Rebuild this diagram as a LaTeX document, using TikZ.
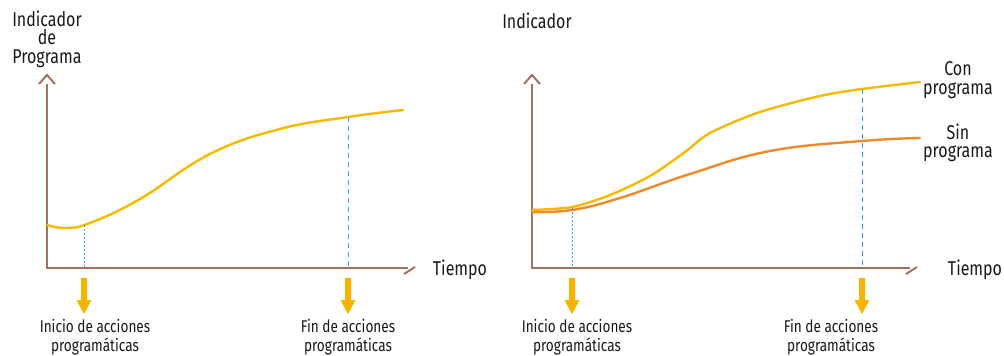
\documentclass[tikz,border=0pt]{standalone}
\usepackage{fontspec}
\setmainfont[FakeStretch=0.8]{Fira Sans}
\usetikzlibrary{calc}
\definecolor{axisc}{HTML}{A0725F}
\definecolor{yelc}{HTML}{F7B900}
\definecolor{orac}{HTML}{EE8A2A}
\definecolor{cyanc}{HTML}{2EA9D6}
\definecolor{arrc}{HTML}{F6B400}
\tikzset{
  axis/.style={draw=axisc,line width=2.6pt},
  curveY/.style={draw=yelc,line width=2.4pt,line cap=round},
  curveO/.style={draw=orac,line width=2.4pt,line cap=round},
  dotline/.style={draw=cyanc,line width=1pt,dash pattern=on 2pt off 2pt},
  dashline/.style={draw=cyanc,line width=1pt,dash pattern=on 5pt off 4pt},
  lbl/.style={font=\fontsize{17}{19}\selectfont,align=center,inner sep=0pt,text=black!90},
  axlbl/.style={font=\fontsize{20}{18.5}\selectfont,align=center,inner sep=0pt,text=black!90},
}
\newcommand{\downarr}[1]{\fill[arrc] ($(#1)+(-3,0)$) -- ($(#1)+(3,0)$) -- ($(#1)+(3,22)$) -- ($(#1)+(7.5,22)$) -- ($(#1)+(0,36)$) -- ($(#1)+(-7.5,22)$) -- ($(#1)+(-3,22)$) -- cycle;}
\begin{document}
\begin{tikzpicture}[x=1pt,y=-1pt]
\useasboundingbox (0,0) rectangle (1004,356);
% ---------- left chart
\coordinate (Lo) at (47,268);
\coordinate (Ltop) at (47,84);
\coordinate (Lend) at (408,268);
\draw[axis] (Ltop) -- (Lo) -- (Lend);
\draw[axis,line width=2pt] (39,84) -- (47,75) -- (55,84);
\draw[axis,line width=2pt] (404,274) -- (415,267);
\draw[curveY] plot[smooth,tension=0.7] coordinates {(47,225) (66,228) (90,223) (140,199) (210,154) (280,129) (348,117) (403,110)};
\coordinate (Ls) at (84,225);
\coordinate (Lsb) at (84,268);
\coordinate (Le) at (348,117);
\coordinate (Leb) at (348,268);
\draw[dotline] (Ls) -- (Lsb);
\draw[dashline] (Le) -- (Leb);
\coordinate (La1) at (84,278);
\coordinate (La2) at (348,278);
\downarr{La1}
\downarr{La2}
\node[lbl] (Lini) at (95,337) {Inicio de acciones\\programáticas};
\node[lbl] (Lfin) at (348,337) {Fin de acciones\\programáticas};
\node[axlbl] (Lt) at (460,270) {Tiempo};
\node[axlbl] (Ly) at (47,39) {Indicador\\de\\Programa};
% ---------- right chart
\coordinate (Ro) at (532,268);
\coordinate (Rtop) at (532,84);
\coordinate (Rend) at (910,268);
\draw[axis] (Rtop) -- (Ro) -- (Rend);
\draw[axis,line width=2pt] (524,84) -- (532,75) -- (540,84);
\draw[axis,line width=2pt] (906,274) -- (917,267);
\draw[curveO] plot[smooth,tension=0.7] coordinates {(532,212) (572,210) (620,198) (690,174) (770,151) (862,141) (920,138)};
\draw[curveY] plot[smooth,tension=0.5] coordinates {(532,210) (572,207) (610,195) (650,176) (685,152) (710,133) (760,112) (820,96) (862,89) (920,82)};
\coordinate (Rs) at (572,208);
\coordinate (Rsb) at (572,268);
\coordinate (Re) at (862,89);
\coordinate (Reb) at (862,268);
\draw[dotline] (Rs) -- (Rsb);
\draw[dashline] (Re) -- (Reb);
\coordinate (Ra1) at (572,278);
\coordinate (Ra2) at (862,278);
\downarr{Ra1}
\downarr{Ra2}
\node[lbl] (Rini) at (577,337) {Inicio de acciones\\programáticas};
\node[lbl] (Rfin) at (831,337) {Fin de acciones\\programáticas};
\node[axlbl] (Rt) at (975,270) {Tiempo};
\node[axlbl] (Ry) at (537,21) {Indicador};
\node[axlbl] (Rcon) at (958,80) {Con\\programa};
\node[axlbl] (Rsin) at (958,143) {Sin\\programa};
\end{tikzpicture}
\end{document}
